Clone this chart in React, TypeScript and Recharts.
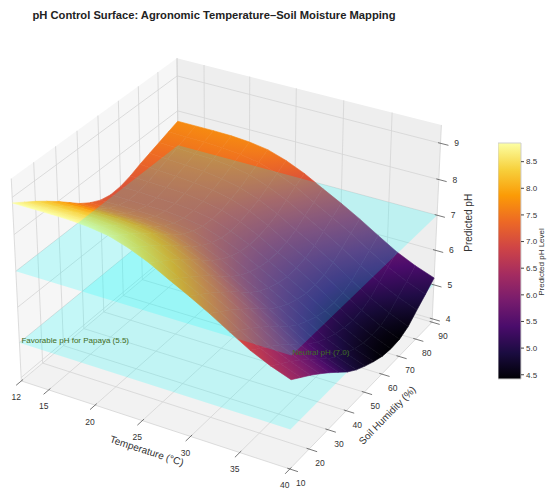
import React from "react";
import { Bar, BarChart, Scatter, ScatterChart, XAxis, YAxis } from "recharts";

/* ─────────────────────────  Data  ───────────────────────── */

const TEMPS = [12, 14, 16, 18, 20, 22, 24, 26, 28, 30, 32, 34, 36, 38, 40];
const HUMIDITIES = [10, 15, 20, 25, 30, 35, 40, 45, 50, 55, 60, 65, 70, 75, 80, 85, 90];

// predicted pH, one row per temperature, one column per humidity
const PH_GRID = [
  [8.85, 8.65, 8.45, 8.23, 8.0, 7.75, 7.5, 7.3, 7.15, 7.08, 7.1, 7.18, 7.3, 7.4, 7.5, 7.6, 7.7],
  [8.85, 8.65, 8.45, 8.23, 8.0, 7.75, 7.5, 7.3, 7.15, 7.08, 7.09, 7.16, 7.27, 7.37, 7.48, 7.59, 7.7],
  [8.85, 8.65, 8.45, 8.23, 8.0, 7.75, 7.5, 7.3, 7.15, 7.07, 7.07, 7.14, 7.24, 7.35, 7.46, 7.58, 7.7],
  [8.84, 8.64, 8.44, 8.22, 7.99, 7.74, 7.49, 7.29, 7.14, 7.06, 7.05, 7.11, 7.2, 7.31, 7.44, 7.56, 7.69],
  [8.8, 8.6, 8.4, 8.18, 7.95, 7.7, 7.45, 7.25, 7.1, 7.01, 7.0, 7.04, 7.14, 7.24, 7.38, 7.51, 7.65],
  [8.72, 8.52, 8.32, 8.1, 7.87, 7.62, 7.37, 7.17, 7.02, 6.93, 6.91, 6.94, 7.03, 7.13, 7.28, 7.42, 7.57],
  [8.55, 8.35, 8.15, 7.93, 7.7, 7.45, 7.2, 7.0, 6.85, 6.75, 6.72, 6.75, 6.83, 6.94, 7.09, 7.24, 7.4],
  [8.32, 8.12, 7.92, 7.7, 7.47, 7.22, 6.97, 6.77, 6.62, 6.52, 6.48, 6.5, 6.57, 6.68, 6.85, 7.01, 7.17],
  [8.03, 7.83, 7.63, 7.41, 7.18, 6.93, 6.68, 6.48, 6.33, 6.23, 6.18, 6.19, 6.25, 6.36, 6.54, 6.71, 6.88],
  [7.75, 7.55, 7.35, 7.13, 6.9, 6.65, 6.4, 6.2, 6.05, 5.94, 5.88, 5.89, 5.94, 6.06, 6.24, 6.42, 6.6],
  [7.45, 7.25, 7.05, 6.83, 6.6, 6.35, 6.1, 5.9, 5.75, 5.64, 5.57, 5.57, 5.61, 5.73, 5.92, 6.11, 6.3],
  [7.12, 6.92, 6.72, 6.5, 6.27, 6.02, 5.77, 5.57, 5.42, 5.3, 5.23, 5.21, 5.26, 5.37, 5.57, 5.77, 5.97],
  [6.8, 6.6, 6.4, 6.18, 5.95, 5.7, 5.45, 5.25, 5.1, 4.98, 4.9, 4.87, 4.91, 5.02, 5.24, 5.44, 5.65],
  [6.55, 6.35, 6.15, 5.93, 5.7, 5.45, 5.2, 5.0, 4.85, 4.72, 4.63, 4.6, 4.63, 4.75, 4.97, 5.18, 5.4],
  [6.35, 6.15, 5.95, 5.73, 5.5, 5.25, 5.0, 4.8, 4.65, 4.52, 4.42, 4.38, 4.4, 4.52, 4.75, 4.97, 5.2],
];

const TEMP_TICKS = [12, 15, 20, 25, 30, 35, 40];
const HUM_TICKS = [10, 20, 30, 40, 50, 60, 70, 80, 90];
const PH_TICKS = [4, 5, 6, 7, 8, 9];
const COLORBAR_TICKS = [4.5, 5, 5.5, 6, 6.5, 7, 7.5, 8, 8.5];

const PLANE_LEVELS = [5.0, 7.0];
const PLANE_LABELS = ["Favorable pH for Papaya (5.5)", "Neutral pH (7.0)"];

/* ─────────────────────────  View  ───────────────────────── */

const W = 550;
const H = 500;
const T_LIM = [12, 40];
const H_LIM = [10, 90];
const Z_LIM = [3.9, 9.5];
const COLOR_LIM = [4.42, 8.85];

const ELEV = 30;
const AZIM = -60;
const SCALE = 307.5;
const CENTER_X = 230.6;
const CENTER_Y = 253.4;
const PERSP = 0.123;

const FONT = '"Liberation Sans", Arial, sans-serif';
const GRID = "#d4d4d4";
const TICK = "#555";
const LABEL = "#333";

const INFERNO = [
  "#000004", "#1b0c41", "#4a0c6b", "#781c6d", "#a52c60",
  "#cf4446", "#ed6925", "#fb9b06", "#f7d13d", "#fcffa4",
];

function hexRgb(h: string) {
  return [1, 3, 5].map((i) => parseInt(h.slice(i, i + 2), 16));
}

function inferno(t: number) {
  const v = Math.max(0, Math.min(1, t));
  const n = INFERNO.length - 1;
  const i = Math.min(n - 1, Math.floor(v * n));
  const f = v * n - i;
  const a = hexRgb(INFERNO[i]);
  const b = hexRgb(INFERNO[i + 1]);
  const c = a.map((x, k) => Math.round(x + (b[k] - x) * f));
  return `rgb(${c[0]},${c[1]},${c[2]})`;
}

const phColor = (v: number) => inferno((v - COLOR_LIM[0]) / (COLOR_LIM[1] - COLOR_LIM[0]));

type P3 = [number, number, number];

function project(t: number, h: number, z: number) {
  const X = (t - T_LIM[0]) / (T_LIM[1] - T_LIM[0]) - 0.5;
  const Y = (h - H_LIM[0]) / (H_LIM[1] - H_LIM[0]) - 0.5;
  const Z = ((z - Z_LIM[0]) / (Z_LIM[1] - Z_LIM[0]) - 0.5) * 0.75;
  const e = (ELEV * Math.PI) / 180;
  const a = (AZIM * Math.PI) / 180;
  const u = -Math.sin(a) * X + Math.cos(a) * Y;
  const v = -Math.sin(e) * Math.cos(a) * X - Math.sin(e) * Math.sin(a) * Y + Math.cos(e) * Z;
  const w = Math.cos(e) * Math.cos(a) * X + Math.cos(e) * Math.sin(a) * Y + Math.sin(e) * Z;
  const f = 1 / (1 - PERSP * w);
  return { x: CENTER_X + SCALE * f * u, y: CENTER_Y - SCALE * f * v, depth: w };
}

type Item = {
  x: number;
  y: number;
  kind: "poly" | "line" | "text";
  pts?: number[][];
  vals?: number[];
  id?: string;
  fill?: string;
  opacity?: number;
  stroke?: string;
  strokeWidth?: number;
  text?: string;
  anchor?: string;
  angle?: number;
  size?: number;
  weight?: string | number;
  color?: string;
  depth?: number;
};

function poly(corners: P3[], style: Partial<Item> = {}): Item {
  const p = corners.map((c) => project(c[0], c[1], c[2]));
  const depth = p.reduce((s, q) => s + q.depth, 0) / p.length;
  return { x: p[0].x, y: p[0].y, kind: "poly", pts: p.map((q) => [q.x, q.y]), depth, ...style };
}

function seg(a: P3, b: P3, stroke = GRID, strokeWidth = 0.8): Item {
  return poly([a, b], { kind: "line", stroke, strokeWidth });
}

function label(pos: P3, dx: number, dy: number, text: string, style: Partial<Item> = {}): Item {
  const p = project(pos[0], pos[1], pos[2]);
  return { x: p.x + dx, y: p.y + dy, kind: "text", text, size: 8.5, color: LABEL, anchor: "middle", ...style };
}

// least-squares colour ramp across one facet, in screen space
function facetRamp(pts: number[][], vals: number[]) {
  const n = pts.length;
  const mx = pts.reduce((s, p) => s + p[0], 0) / n;
  const my = pts.reduce((s, p) => s + p[1], 0) / n;
  const mv = vals.reduce((s, v) => s + v, 0) / n;
  let sxx = 0, sxy = 0, syy = 0, sxv = 0, syv = 0;
  pts.forEach((p, i) => {
    const dx = p[0] - mx, dy = p[1] - my, dv = vals[i] - mv;
    sxx += dx * dx; sxy += dx * dy; syy += dy * dy; sxv += dx * dv; syv += dy * dv;
  });
  const det = sxx * syy - sxy * sxy;
  if (Math.abs(det) < 1e-9) return null;
  const b = (sxv * syy - syv * sxy) / det;
  const c = (syv * sxx - sxv * sxy) / det;
  const g = Math.hypot(b, c);
  if (g < 1e-9) return null;
  const ux = b / g, uy = c / g;
  const s = pts.map((p) => (p[0] - mx) * ux + (p[1] - my) * uy);
  const lo = Math.min(...s), hi = Math.max(...s);
  return {
    x1: mx + lo * ux, y1: my + lo * uy, v1: mv + g * lo,
    x2: mx + hi * ux, y2: my + hi * uy, v2: mv + g * hi,
  };
}

function Shape3D(props: any) {
  const d: Item = props.payload ?? props;
  const ox = props.cx - d.x;
  const oy = props.cy - d.y;
  if (d.kind === "text") {
    const x = props.cx;
    const y = props.cy;
    return (
      <text
        x={x}
        y={y}
        textAnchor={d.anchor}
        dominantBaseline={d.anchor === "start" ? "alphabetic" : "central"}
        fontSize={d.size}
        fontWeight={d.weight ?? "normal"}
        fontFamily={FONT}
        fill={d.color}
        transform={d.angle ? `rotate(${d.angle} ${x} ${y})` : undefined}
      >
        {d.text}
      </text>
    );
  }
  const pts = (d.pts ?? []).map(([x, y]) => [x + ox, y + oy]);
  const str = pts.map((p) => `${p[0]},${p[1]}`).join(" ");
  if (d.kind === "line") {
    return <polyline points={str} fill="none" stroke={d.stroke} strokeWidth={d.strokeWidth} />;
  }
  if (d.vals) {
    const r = facetRamp(pts, d.vals);
    const mean = d.vals.reduce((s, v) => s + v, 0) / d.vals.length;
    const paint = r ? `url(#${d.id})` : phColor(mean);
    return (
      <g>
        {r && (
          <defs>
            <linearGradient id={d.id} gradientUnits="userSpaceOnUse" x1={r.x1} y1={r.y1} x2={r.x2} y2={r.y2}>
              <stop offset="0" stopColor={phColor(r.v1)} />
              <stop offset="0.5" stopColor={phColor((r.v1 + r.v2) / 2)} />
              <stop offset="1" stopColor={phColor(r.v2)} />
            </linearGradient>
          </defs>
        )}
        <polygon points={str} fill={paint} stroke={paint} strokeWidth={0.6} strokeLinejoin="round" />
      </g>
    );
  }
  return (
    <polygon
      points={str}
      fill={d.fill}
      fillOpacity={d.opacity ?? 1}
      stroke={d.stroke ?? "none"}
      strokeWidth={d.strokeWidth ?? 0}
    />
  );
}

/* ─────────────────────────  Layers  ───────────────────────── */

const [t0, t1] = T_LIM;
const [h0, h1] = H_LIM;
const [z0, z1] = Z_LIM;

const PANES: Item[] = [
  poly([[t0, h0, z0], [t0, h1, z0], [t0, h1, z1], [t0, h0, z1]], { fill: "#f6f6f6" }),
  poly([[t0, h1, z0], [t1, h1, z0], [t1, h1, z1], [t0, h1, z1]], { fill: "#eeeeee" }),
  poly([[t0, h0, z0], [t1, h0, z0], [t1, h1, z0], [t0, h1, z0]], { fill: "#f2f2f2" }),
];

const GRID_LINES: Item[] = [
  ...TEMP_TICKS.map((t) => seg([t, h0, z0], [t, h1, z0])),
  ...HUM_TICKS.map((h) => seg([t0, h, z0], [t1, h, z0])),
  ...HUM_TICKS.map((h) => seg([t0, h, z0], [t0, h, z1])),
  ...PH_TICKS.map((z) => seg([t0, h0, z], [t0, h1, z])),
  ...TEMP_TICKS.map((t) => seg([t, h1, z0], [t, h1, z1])),
  ...PH_TICKS.map((z) => seg([t0, h1, z], [t1, h1, z])),
];

const planeItem = (level: number) =>
  poly([[t0, h0, level], [t1, h0, level], [t1, h1, level], [t0, h1, level]], {
    fill: "#00ffff",
    opacity: 0.2,
  });

const LOWER_PLANE: Item[] = [planeItem(PLANE_LEVELS[0])];
const UPPER_PLANE: Item[] = [planeItem(PLANE_LEVELS[1])];

const SURFACE: Item[] = [];
for (let i = 0; i < TEMPS.length - 1; i++) {
  for (let j = 0; j < HUMIDITIES.length - 1; j++) {
    const c: P3[] = [
      [TEMPS[i], HUMIDITIES[j], PH_GRID[i][j]],
      [TEMPS[i + 1], HUMIDITIES[j], PH_GRID[i + 1][j]],
      [TEMPS[i + 1], HUMIDITIES[j + 1], PH_GRID[i + 1][j + 1]],
      [TEMPS[i], HUMIDITIES[j + 1], PH_GRID[i][j + 1]],
    ];
    SURFACE.push(poly(c, { vals: c.map((p) => p[2]), id: `facet-${i}-${j}` }));
  }
}
SURFACE.sort((a, b) => (a.depth ?? 0) - (b.depth ?? 0));

const midT = (t0 + t1) / 2;
const midH = (h0 + h1) / 2;
const midZ = (z0 + z1) / 2;
const angleOf = (a: P3, b: P3) => {
  const p = project(a[0], a[1], a[2]);
  const q = project(b[0], b[1], b[2]);
  return (Math.atan2(q.y - p.y, q.x - p.x) * 180) / Math.PI;
};

const AXES: Item[] = [
  ...TEMP_TICKS.map((t) => seg([t, h0 + 0.8, z0], [t, h0 - 2.4, z0], TICK, 0.8)),
  ...HUM_TICKS.map((h) => seg([t1 - 0.25, h, z0], [t1 + 0.8, h, z0], TICK, 0.8)),
  ...PH_TICKS.map((z) => seg([t1 - 0.25, h1, z], [t1 + 0.8, h1, z], TICK, 0.8)),
  ...TEMP_TICKS.map((t) => label([t, h0, z0], -5, 16.5, String(t))),
  ...HUM_TICKS.map((h) => label([t1, h, z0], 11, 14, String(h))),
  ...PH_TICKS.map((z) => label([t1, h1, z], 16, 0, String(z))),
  label([midT, h0, z0], -5, 27, "Temperature (°C)", {
    size: 10,
    angle: angleOf([t0, h0, z0], [t1, h0, z0]),
  }),
  label([t1, midH, z0], 23, 23, "Soil Humidity (%)", {
    size: 10,
    angle: angleOf([t1, h0, z0], [t1, h1, z0]),
  }),
  label([t1, h1, midZ], 32, -3, "Predicted pH", { size: 10, angle: -90 }),
];

const NOTES: Item[] = PLANE_LEVELS.map((level, k) =>
  label(k === 0 ? [t0, h0, level] : [t1, h0, level], k === 0 ? 2 : 1, 0, PLANE_LABELS[k], {
    anchor: "start",
    size: 8,
    color: "#3f6b22",
  }),
);

const TITLES: Item[] = [
  {
    x: 214,
    y: 15,
    kind: "text",
    text: "pH Control Surface: Agronomic Temperature\u2013Soil Moisture Mapping",
    anchor: "middle",
    size: 11.2,
    weight: "bold",
    color: "#222",
  },
  { x: 541, y: 262, kind: "text", text: "Predicted pH Level", anchor: "middle", size: 8, angle: -90, color: LABEL },
];

const COLORBAR_DATA = [{ name: "pH", value: COLOR_LIM[1] }];

/* ─────────────────────────  Chart  ───────────────────────── */

const LAYERS = [PANES, GRID_LINES, LOWER_PLANE, SURFACE, UPPER_PLANE, AXES, NOTES, TITLES];

export default function App() {
  return (
    <div style={{ position: "absolute", left: 0, top: 0, width: W, height: H, background: "#fff" }}>
      <ScatterChart width={W} height={H} margin={{ top: 0, right: 0, bottom: 0, left: 0 }}>
        <XAxis type="number" dataKey="x" domain={[0, W]} hide />
        <YAxis type="number" dataKey="y" domain={[0, H]} reversed hide />
        {LAYERS.map((data, i) => (
          <Scatter key={i} data={data} shape={Shape3D} isAnimationActive={false} />
        ))}
      </ScatterChart>
      <div style={{ position: "absolute", left: 498, top: 133 }}>
        <BarChart
          width={60}
          height={256}
          data={COLORBAR_DATA}
          margin={{ top: 10, right: 0, bottom: 10, left: 0 }}
          barCategoryGap={0}
        >
          <defs>
            <linearGradient id="infernoBar" x1="0" y1="1" x2="0" y2="0">
              {INFERNO.map((c, i) => (
                <stop key={i} offset={i / (INFERNO.length - 1)} stopColor={c} />
              ))}
            </linearGradient>
          </defs>
          <XAxis dataKey="name" hide />
          <YAxis
            orientation="right"
            type="number"
            domain={COLOR_LIM}
            ticks={COLORBAR_TICKS}
            width={37}
            tickSize={3}
            axisLine={false}
            tickLine={{ stroke: "#444" }}
            tickFormatter={(v: number) => v.toFixed(1)}
            tick={{ fontSize: 8, fill: LABEL, fontFamily: FONT }}
          />
          <Bar dataKey="value" fill="url(#infernoBar)" stroke="#cfcfcf" isAnimationActive={false} />
        </BarChart>
      </div>
    </div>
  );
}
